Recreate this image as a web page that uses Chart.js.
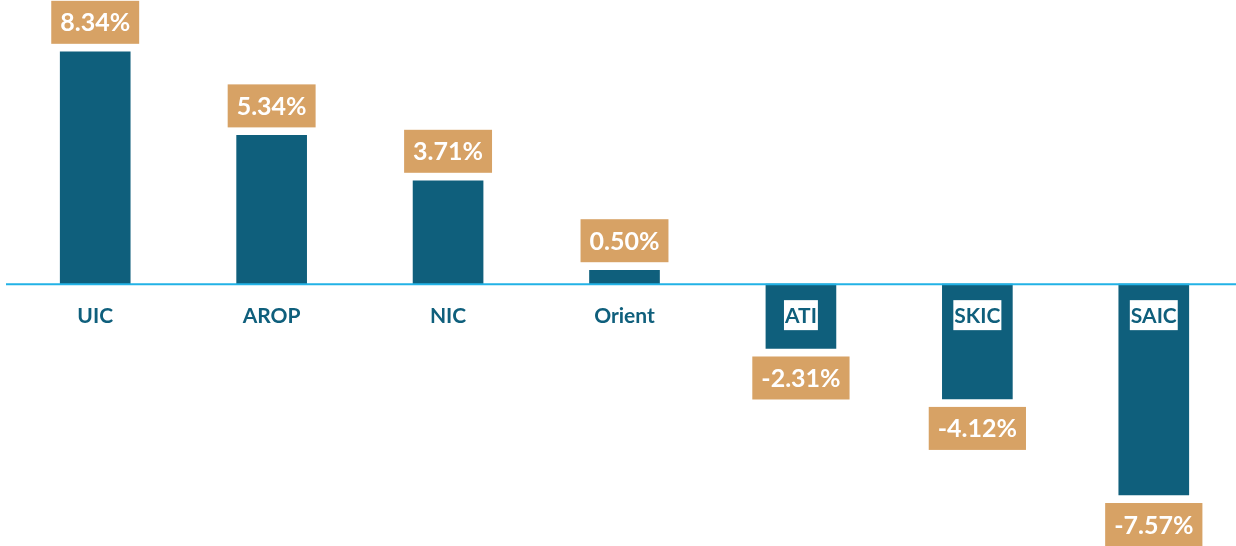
<!DOCTYPE html>
<html>
<head>
<meta charset="utf-8">
<script src="https://cdn.jsdelivr.net/npm/chart.js@4.4.1/dist/chart.umd.min.js"></script>
<style>
    html, body { margin: 0; padding: 0; background: #ffffff; overflow: hidden; }
    #wrap { position: relative; width: 1242px; height: 546px; }
</style>
</head>
<body>
<div id="wrap"><canvas id="growthChart"></canvas></div>
<script>
// Data
const companies = ['UIC', 'AROP', 'NIC', 'Orient', 'ATI', 'SKIC', 'SAIC'];
const growth = [8.34, 5.34, 3.71, 0.50, -2.31, -4.12, -7.57];

// Colours
const BAR_COLOR = '#0F5F7C';
const TAG_COLOR = '#D7A265';
const AXIS_COLOR = '#22B2E6';

// Zero line + labels
const labelPlugin = {
    id: 'labelPlugin',
    afterDatasetsDraw(chart) {
        const ctx = chart.ctx;
        const y = chart.scales.y;
        const zeroY = y.getPixelForValue(0);
        const meta = chart.getDatasetMeta(0);

        ctx.save();
        // axis line
        ctx.strokeStyle = AXIS_COLOR;
        ctx.lineWidth = 2;
        ctx.beginPath();
        ctx.moveTo(6, zeroY);
        ctx.lineTo(chart.width, zeroY);
        ctx.stroke();

        ctx.textAlign = 'center';
        ctx.textBaseline = 'middle';

        meta.data.forEach((bar, i) => {
            // category label with white box
            ctx.font = 'bold 21px Lato';
            const name = companies[i];
            const nw = ctx.measureText(name).width;
            const ly = zeroY + 31;
            ctx.fillStyle = '#ffffff';
            ctx.fillRect(bar.x - nw / 2 - 1, ly - 15, nw + 2, 30);
            ctx.fillStyle = BAR_COLOR;
            ctx.fillText(name, bar.x, ly + 1);

            // value tag
            ctx.font = 'bold 25px Lato';
            const txt = growth[i].toFixed(2) + '%';
            const tw = ctx.measureText(txt).width;
            const bw = tw + 18;
            const bh = 43;
            let top;
            if (growth[i] >= 0) {
                top = bar.y - 8 - bh;
            } else {
                top = bar.y + 8;
            }
            ctx.fillStyle = TAG_COLOR;
            ctx.fillRect(bar.x - bw / 2, top, bw, bh);
            ctx.fillStyle = '#ffffff';
            ctx.fillText(txt, bar.x, top + bh / 2 + 1);
        });
        ctx.restore();
    }
};

const ctx = document.getElementById('growthChart').getContext('2d');
new Chart(ctx, {
    type: 'bar',
    data: {
        labels: companies,
        datasets: [{
            data: growth,
            backgroundColor: BAR_COLOR,
            borderWidth: 0,
            barThickness: 70
        }]
    },
    options: {
        responsive: true,
        maintainAspectRatio: false,
        animation: false,
        layout: { padding: { left: 7, right: 0, top: 0, bottom: 0 } },
        plugins: {
            legend: { display: false },
            tooltip: { enabled: false }
        },
        scales: {
            x: { display: false, grid: { display: false } },
            y: { display: false, min: -9.4, max: 10.2, grid: { display: false } }
        }
    },
    plugins: [labelPlugin]
});
</script>
</body>
</html>
